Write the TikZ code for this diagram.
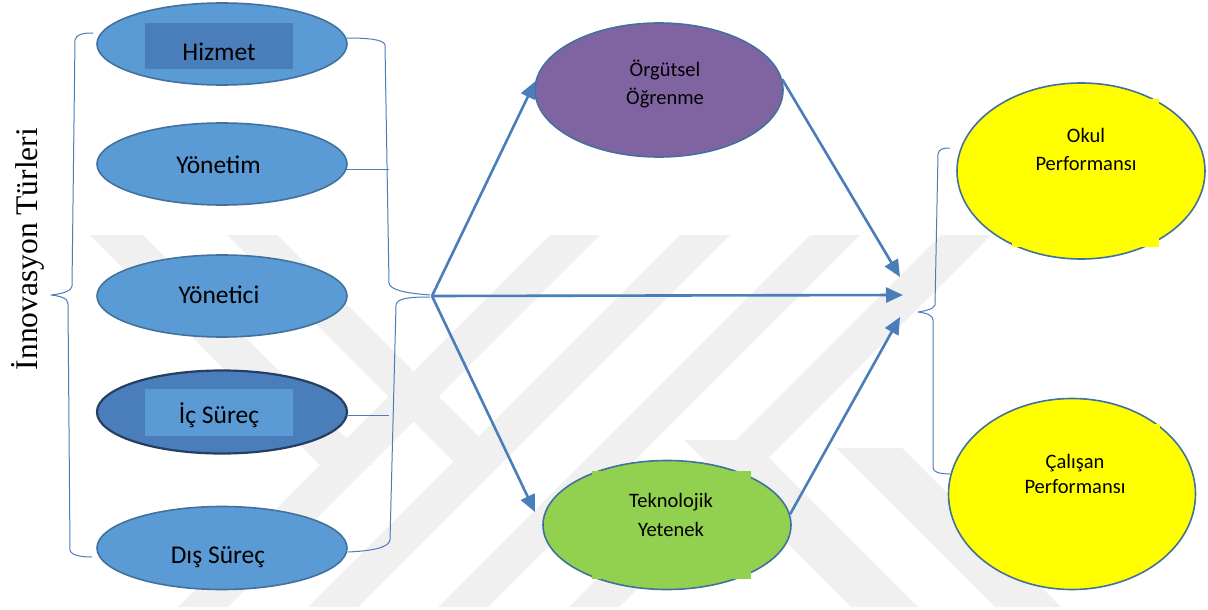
\documentclass[tikz,border=0pt]{standalone}
\usepackage{fontspec}
\setmainfont{Carlito}
\newfontfamily\timesfont{Liberation Serif}
\usetikzlibrary{shapes.geometric,arrows.meta,calc}
\definecolor{ellblue}{HTML}{5B9BD5}
\definecolor{darkblue}{HTML}{4A7EBB}
\definecolor{edge}{HTML}{41719C}
\definecolor{navy}{HTML}{253F62}
\definecolor{purp}{HTML}{8064A2}
\definecolor{grn}{HTML}{92D050}
\definecolor{yel}{HTML}{FFFF00}
\definecolor{arr}{HTML}{4A7EBB}
\definecolor{wm}{HTML}{F0F0F0}
\begin{document}
\begin{tikzpicture}[x=1pt,y=-1pt,
  ell/.style={ellipse, draw=edge, line width=1.6pt, inner sep=0pt},
  boxfill/.style={draw=none, inner sep=0pt},
  bigtxt/.style={font=\fontsize{25.5}{30}\selectfont, anchor=base, inner sep=0pt},
  smalltxt/.style={font=\fontsize{20.5}{24}\selectfont, anchor=base, inner sep=0pt},
  conn/.style={draw=arr, line width=2.6pt, -{Triangle[length=17pt,width=15pt]}},
  brace/.style={draw=arr, line width=1pt, line join=round},
  wmark/.style={fill=wm, draw=none}]

\useasboundingbox (0,0) rectangle (1208,610);
\fill[white] (0,0) rectangle (1208,610);

% watermark
\fill[wmark] (90,235) -- (143,235) -- (373,465) -- (320,465) -- cycle;
\fill[wmark] (227,235) -- (277,235) -- (503,461) -- (453,461) -- cycle;
\foreach \t in {550,680,810,941}{
  \fill[wmark] (\t,235) -- (\t+50,235) -- (\t-322,607) -- (\t-372,607) -- cycle;
}
\fill[wmark] (684,440) -- (751,440) -- (918,607) -- (851,607) -- cycle;
\fill[wmark] (836,448) -- (902,448) -- (1061,607) -- (995,607) -- cycle;

% title
\node[font=\timesfont\fontsize{31.5}{36}\selectfont, rotate=90, anchor=base, inner sep=0pt] (title) at (37,249) {İnnovasyon Türleri};

% braces
\draw[brace] (93,33) .. controls (84,33) and (76,34) .. (75,40) -- (72,286) .. controls (71,292) and (60,294) .. (51,295) .. controls (60,296) and (68,298) .. (68,304) -- (70,550) .. controls (71,556) and (84,557) .. (92,557);
\draw[brace] (347,38) .. controls (365,38) and (384,39) .. (385,45) -- (389,283) .. controls (390,290) and (405,293) .. (430,295);
\draw[brace] (430,297) .. controls (410,297) and (397,298) .. (396,305) -- (390,540) .. controls (389,548) and (370,551) .. (348,552);
\draw[brace] (950,148) .. controls (943,148) and (939,149) .. (938,154) -- (935,305) .. controls (934,309) and (925,311) .. (918,312) .. controls (926,313) and (933,315) .. (933,320) -- (933,468) .. controls (933,472) and (940,474) .. (950,474);
\draw[brace] (346,169) -- (389,169);
\draw[brace] (348,415) -- (389,415);

% left column
\node[ell, fill=ellblue, minimum width=250pt, minimum height=82pt] (hiz) at (222,44) {};
\node[boxfill, fill=darkblue, minimum width=148pt, minimum height=46pt] (hizbox) at (219,46) {};
\node[bigtxt] (hizt) at (219,60) {Hizmet};

\node[ell, fill=ellblue, minimum width=250pt, minimum height=82pt] (yon) at (222,164) {};
\node[bigtxt] (yont) at (218.5,173) {Yönetim};

\node[ell, fill=ellblue, minimum width=250pt, minimum height=82pt] (yci) at (222,296) {};
\node[bigtxt] (ycit) at (219,303) {Yönetici};

\node[ell, fill=darkblue, draw=navy, line width=2.2pt, minimum width=250pt, minimum height=83pt] (ics) at (222,412) {};
\node[boxfill, fill=ellblue, minimum width=148pt, minimum height=47pt] (icsbox) at (219,412.5) {};
\node[bigtxt] (icst) at (219,423) {İç Süreç};

\node[ell, fill=ellblue, minimum width=250pt, minimum height=83pt] (dis) at (222,548) {};
\node[bigtxt] (dist) at (218,563) {Dış Süreç};

% middle column
\node[ell, fill=purp, minimum width=248pt, minimum height=134pt] (org) at (659,90) {};
\node[smalltxt] (orgt1) at (665,77) {Örgütsel};
\node[smalltxt] (orgt2) at (665,104) {Öğrenme};

\node[ell, fill=grn, minimum width=248pt, minimum height=129pt] (tek) at (667,525) {};
\node[boxfill, fill=grn, minimum width=159pt, minimum height=108pt] (tekbox) at (671.5,525) {};
\node[smalltxt] (tekt1) at (671,507) {Teknolojik};
\node[smalltxt] (tekt2) at (671,536) {Yetenek};

% right column
\node[ell, fill=yel, minimum width=248pt, minimum height=176pt] (okul) at (1081,171) {};
\node[boxfill, fill=yel, minimum width=147pt, minimum height=148pt] (okulbox) at (1085.5,173) {};
\node[smalltxt] (okult1) at (1086,142) {Okul};
\node[smalltxt] (okult2) at (1086,170) {Performansı};

\node[ell, fill=yel, minimum width=247pt, minimum height=191pt] (cal) at (1072,494) {};
\node[boxfill, fill=yel, minimum width=170pt, minimum height=136pt] (calbox) at (1075,492) {};
\node[smalltxt] (calt1) at (1075,468) {Çalışan};
\node[smalltxt] (calt2) at (1075,493) {Performansı};

% connectors
\coordinate (src) at (432,296);
\coordinate (t1) at (900,277);
\coordinate (t2) at (903,295);
\coordinate (t3) at (900,317);
\coordinate (tekin) at (535,512);
\draw[conn] (src) -- (org.176);
\draw[conn] (src) -- (t2);
\draw[conn] (src) -- (tekin);
\draw[conn] (org.5) -- (t1);
\draw[conn] (tek.5) -- (t3);
\end{tikzpicture}
\end{document}
